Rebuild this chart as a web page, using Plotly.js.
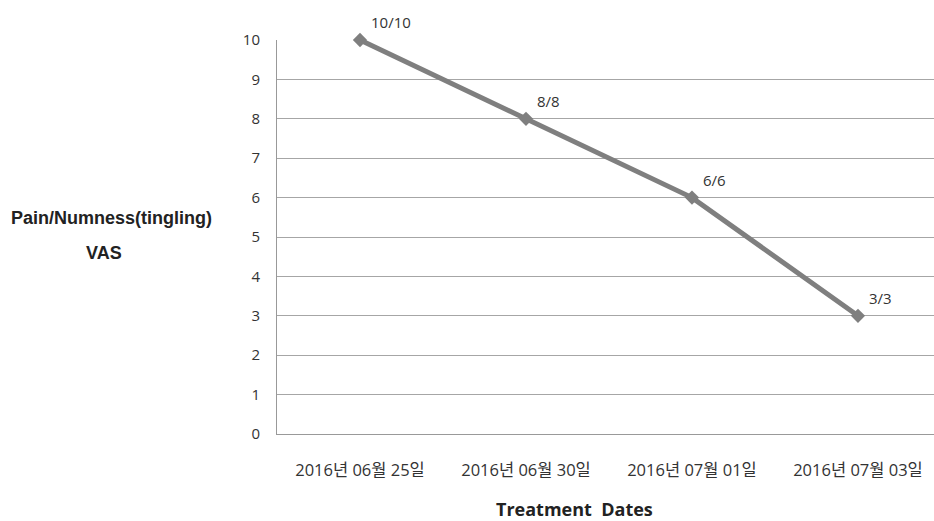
<!DOCTYPE html>
<html>
<head>
<meta charset="utf-8">
<script src="https://cdn.plot.ly/plotly-3.0.1.min.js"></script>
<style>html,body{margin:0;padding:0;background:#fff;}#chart{width:934px;height:521px;}</style>
</head>
<body>
<div id="chart"></div>
<script>
const dates = ["2016년 06월 25일", "2016년 06월 30일", "2016년 07월 01일", "2016년 07월 03일"];
const vas = [10, 8, 6, 3];
const labels = ["10/10", "8/8", "6/6", "3/3"];
const yTicks = [0, 1, 2, 3, 4, 5, 6, 7, 8, 9, 10];

const baseFont = "'Open Sans', 'Noto Sans CJK KR', sans-serif";
const tickFont = {family: baseFont, size: 15, color: "#333"};
const xTickFont = {family: baseFont, size: 16.5, color: "#333"};

const trace = {
  x: dates.map((d, i) => i),
  y: vas,
  type: "scatter",
  mode: "lines+markers",
  line: {color: "#7f7f7f", width: 5},
  marker: {symbol: "diamond", size: 11, color: "#7f7f7f"},
  hoverinfo: "skip",
  cliponaxis: false
};

const annotations = labels.map((t, i) => ({
  x: i, y: vas[i], xref: "x", yref: "y",
  text: t, showarrow: false,
  xanchor: "left", yanchor: "bottom",
  xshift: 9, yshift: 6,
  font: {family: baseFont, size: 15, color: "#333"}
}));

annotations.push({
  xref: "paper", yref: "paper", x: 0, y: 0,
  text: "<b>Treatment  Dates</b>", showarrow: false,
  xanchor: "center", yanchor: "middle",
  xshift: 574 - 277, yshift: -(509 - 434),
  font: {family: "'Open Sans', sans-serif", size: 18, color: "#222"}
});
annotations.push({
  xref: "paper", yref: "paper", x: 0, y: 0.5,
  text: "<b>Pain/Numness(tingling)</b>", showarrow: false,
  xanchor: "center", yanchor: "middle",
  xshift: 111 - 277, yshift: (237 - 218),
  font: {family: "'Liberation Sans', Arial, sans-serif", size: 18, color: "#222"}
});
annotations.push({
  xref: "paper", yref: "paper", x: 0, y: 0.5,
  text: "<b>VAS</b>", showarrow: false,
  xanchor: "center", yanchor: "middle",
  xshift: 104 - 277, yshift: (237 - 253),
  font: {family: "'Liberation Sans', Arial, sans-serif", size: 18, color: "#222"}
});

const layout = {
  width: 934, height: 521,
  margin: {l: 277, r: 0, t: 40, b: 87},
  paper_bgcolor: "#fff", plot_bgcolor: "#fff",
  showlegend: false,
  xaxis: {
    range: [-0.5, 3.458],
    tickmode: "array",
    tickvals: dates.map((d, i) => i),
    ticktext: dates,
    showgrid: false,
    zeroline: false,
    showline: true, linecolor: "#999", linewidth: 1,
    ticks: "", ticklabelstandoff: 21,
    tickfont: xTickFont
  },
  yaxis: {
    range: [0, 10],
    tickmode: "array",
    tickvals: yTicks,
    ticktext: yTicks.map(String),
    showgrid: true, gridcolor: "#a6a6a6", gridwidth: 1,
    zeroline: false,
    showline: true, linecolor: "#999", linewidth: 1,
    ticks: "", ticklabelstandoff: 13,
    tickfont: tickFont
  },
  annotations: annotations
};

Plotly.newPlot("chart", [trace], layout, {displayModeBar: false, staticPlot: true});
</script>
</body>
</html>
